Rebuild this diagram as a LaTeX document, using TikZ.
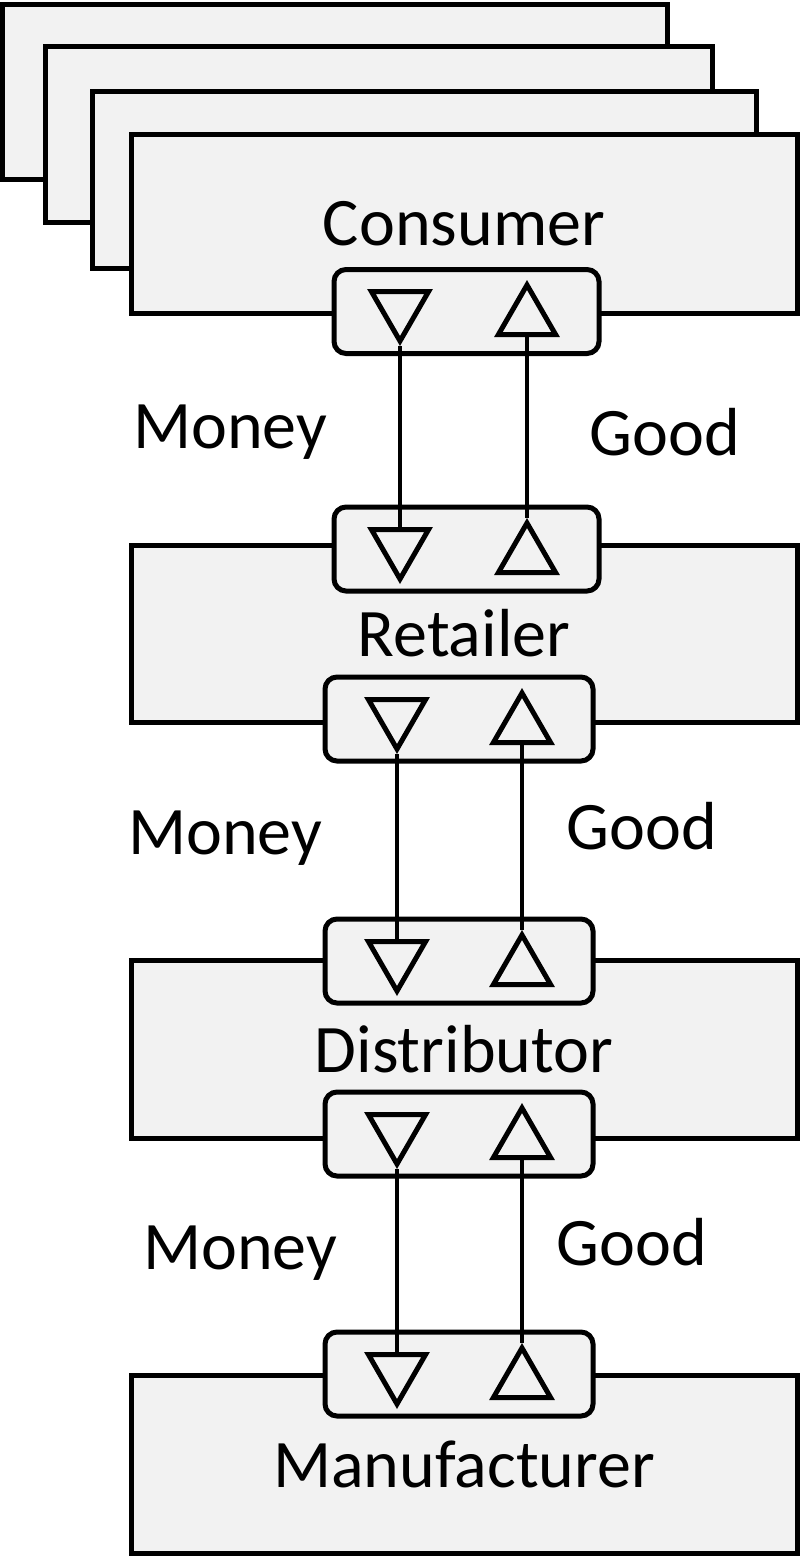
\documentclass[tikz,border=0pt]{standalone}
\usepackage{fontspec}
\setmainfont{Carlito}
\usetikzlibrary{shapes.geometric}
\begin{document}
\begin{tikzpicture}[x=1pt,y=-1pt,
  box/.style={draw,line width=5pt,fill=gray!10,rectangle,inner sep=0pt,font=\fontsize{68}{72}\selectfont},
  port/.style={draw,line width=5pt,fill=gray!10,rectangle,rounded corners=12pt,minimum width=265pt,minimum height=84pt},
  tri/.style={draw,line width=5pt,regular polygon,regular polygon sides=3,minimum size=66pt,inner sep=0pt},
  dn/.style={tri,shape border rotate=180},
  lab/.style={font=\fontsize{68}{72}\selectfont},
  flow/.style={line width=4.5pt}]
\useasboundingbox (0,0) rectangle (800,1557);
\node[box,minimum width=665pt,minimum height=175pt] (b1) at (334.5,92.5) {};
\node[box,minimum width=667pt,minimum height=175pt] (b2) at (378.5,134.5) {};
\node[box,minimum width=664pt,minimum height=176pt] (b3) at (424,180) {};
\node[box,minimum width=666pt,minimum height=178pt] (cons) at (464,224) {Consumer};
\node[port] (cp) at (466.5,311.5) {};
\node[dn] (cm) at (400,308) {};
\node[tri] (cg) at (527,318) {};

\node[box,minimum width=666pt,minimum height=177pt] (ret) at (464,633.5) {Retailer};
\node[port] (rp1) at (466.5,549) {};
\node[dn] (rm1) at (400,546) {};
\node[tri] (rg1) at (527,556) {};
\node[port,minimum width=268pt] (rp2) at (459,719) {};
\node[dn] (rm2) at (397,716) {};
\node[tri] (rg2) at (522,726) {};

\node[box,minimum width=666pt,minimum height=178pt] (dis) at (464,1049) {Distributor};
\node[port,minimum width=268pt] (dp1) at (459,961) {};
\node[dn] (dm1) at (397,958) {};
\node[tri] (dg1) at (522,968) {};
\node[port,minimum width=268pt] (dp2) at (459,1134) {};
\node[dn] (dm2) at (397,1131) {};
\node[tri] (dg2) at (522,1141) {};

\node[box,minimum width=666pt,minimum height=178pt] (man) at (464,1464) {Manufacturer};
\node[port,minimum width=268pt] (mp) at (459,1374) {};
\node[dn] (mm) at (397,1371) {};
\node[tri] (mg) at (522,1381) {};

\draw[flow] (cm.south) -- (rm1.north);
\draw[flow] (rg1.north) -- (cg.south);
\draw[flow] (rm2.south) -- (dm1.north);
\draw[flow] (dg1.north) -- (rg2.south);
\draw[flow] (dm2.south) -- (mm.north);
\draw[flow] (mg.north) -- (dg2.south);

\node[lab] (l1) at (230,432) {Money};
\node[lab] (l2) at (665,432) {Good};
\node[lab] (l3) at (225,838) {Money};
\node[lab] (l4) at (642,826) {Good};
\node[lab] (l5) at (240,1253) {Money};
\node[lab] (l6) at (632,1242) {Good};
\end{tikzpicture}
\end{document}
